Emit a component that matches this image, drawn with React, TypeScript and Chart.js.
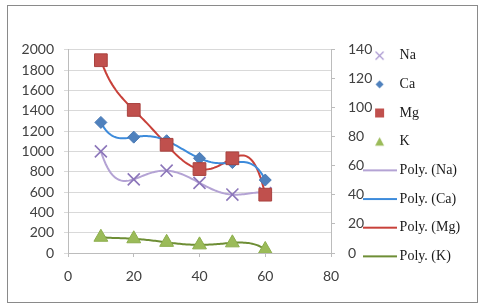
import React, { useEffect, useRef } from 'react';
import { Chart, registerables } from 'chart.js';

Chart.register(...registerables);

// ---- data ----
const xValues = [10, 20, 30, 40, 50, 60];
const naValues = [1000, 725, 810, 690, 575, 590];
const caValues = [1285, 1140, 1105, 932, 890, 718];
const mgValues = [1897, 1408, 1065, 826, 932, 574];
const kValues = [155, 140, 105, 80, 100, 35];

const seriesNames = ['Na', 'Ca', 'Mg', 'K'];
const trendNames = ['Poly. (Na)', 'Poly. (Ca)', 'Poly. (Mg)', 'Poly. (K)'];

const xAxis = { min: 0, max: 80, step: 20 };
const leftAxis = { min: 0, max: 2000, step: 200 };
const rightAxis = { min: 0, max: 140, step: 20 };

const markerColors = ['#8C76BA', '#4F81BD', '#C0504D', '#9BBB59'];
const markerBorders = ['#8C76BA', '#4A7AB5', '#A9423F', '#8CAE4C'];
const trendColors = ['#B4A3D4', '#3D8BDB', '#C8413A', '#6E8E35'];
const legendMarkerColors = ['#A996D0', '#4F81BD', '#C0504D', '#9BBB59'];

const POLY_ORDER = 5;

// least-squares polynomial regression (Excel "Poly." trendline)
function polyFit(xs: number[], ys: number[], order: number): number[] {
  const n = order + 1;
  const A: number[][] = Array.from({ length: n }, () => new Array(n + 1).fill(0));
  for (let k = 0; k < xs.length; k++) {
    const t = (xs[k] - 35) / 10;
    for (let i = 0; i < n; i++) {
      for (let j = 0; j < n; j++) A[i][j] += Math.pow(t, i + j);
      A[i][n] += ys[k] * Math.pow(t, i);
    }
  }
  for (let c = 0; c < n; c++) {
    let p = c;
    for (let r = c + 1; r < n; r++) if (Math.abs(A[r][c]) > Math.abs(A[p][c])) p = r;
    [A[c], A[p]] = [A[p], A[c]];
    for (let r = 0; r < n; r++) {
      if (r === c) continue;
      const f = A[r][c] / A[c][c];
      for (let j = c; j <= n; j++) A[r][j] -= f * A[c][j];
    }
  }
  return A.map((row, i) => row[n] / A[i][i]);
}

function trendPoints(xs: number[], ys: number[]) {
  const coef = polyFit(xs, ys, POLY_ORDER);
  const lo = xs[0];
  const hi = xs[xs.length - 1];
  const pts: { x: number; y: number }[] = [];
  const steps = 100;
  for (let s = 0; s <= steps; s++) {
    const x = lo + ((hi - lo) * s) / steps;
    const t = (x - 35) / 10;
    let y = 0;
    for (let i = coef.length - 1; i >= 0; i--) y = y * t + coef[i];
    pts.push({ x, y });
  }
  return pts;
}

function makeIcon(kind: string, color: string): HTMLCanvasElement {
  const c = document.createElement('canvas');
  const ctx = c.getContext('2d')!;
  if (kind === 'line') {
    c.width = 34;
    c.height = 4;
    ctx.fillStyle = color;
    ctx.fillRect(0, 1, 34, 2);
    return c;
  }
  c.width = 11;
  c.height = 11;
  ctx.fillStyle = color;
  ctx.strokeStyle = color;
  if (kind === 'x') {
    ctx.lineWidth = 1.2;
    ctx.beginPath();
    ctx.moveTo(1.5, 1.5);
    ctx.lineTo(9.5, 9.5);
    ctx.moveTo(9.5, 1.5);
    ctx.lineTo(1.5, 9.5);
    ctx.stroke();
  } else if (kind === 'diamond') {
    ctx.beginPath();
    ctx.moveTo(5.5, 1.5);
    ctx.lineTo(9.5, 5.5);
    ctx.lineTo(5.5, 9.5);
    ctx.lineTo(1.5, 5.5);
    ctx.closePath();
    ctx.fill();
  } else if (kind === 'square') {
    ctx.fillRect(1, 1, 9, 9);
  } else if (kind === 'triangle') {
    ctx.beginPath();
    ctx.moveTo(5.5, 1);
    ctx.lineTo(10, 9.5);
    ctx.lineTo(1, 9.5);
    ctx.closePath();
    ctx.fill();
  }
  return c;
}

export default function App() {
  const ref = useRef<HTMLCanvasElement | null>(null);

  useEffect(() => {
    if (!ref.current) return;
    const seriesValues = [naValues, caValues, mgValues, kValues];
    const styles = ['crossRot', 'rectRot', 'rect', 'triangle'];
    const radii = [8.5, 6, 9, 8];
    const iconKinds = ['x', 'diamond', 'square', 'triangle'];

    const markerSets = seriesValues.map((vals, i) => ({
      label: seriesNames[i],
      data: xValues.map((x, k) => ({ x, y: vals[k] })),
      showLine: false,
      pointStyle: styles[i] as any,
      pointRadius: radii[i],
      pointHoverRadius: radii[i],
      pointBackgroundColor: markerColors[i],
      pointBorderColor: markerBorders[i],
      pointBorderWidth: i === 0 ? 1.6 : 1,
      backgroundColor: markerColors[i],
      borderColor: markerBorders[i],
      order: 4 - i,
    }));

    const trendSets = seriesValues.map((vals, i) => ({
      label: trendNames[i],
      data: trendPoints(xValues, vals),
      showLine: true,
      pointRadius: 0,
      pointHoverRadius: 0,
      borderColor: trendColors[i],
      backgroundColor: trendColors[i],
      borderWidth: 2,
      tension: 0,
      order: 10 + i,
    }));

    const legendIcons = [
      ...iconKinds.map((k, i) => makeIcon(k, legendMarkerColors[i])),
      ...trendColors.map((c) => makeIcon('line', c)),
    ];
    const legendTexts = [...seriesNames, ...trendNames];

    const tickFont = { family: 'Lato, "Open Sans", sans-serif', size: 14 };
    const axisColor = '#bcbcbc';
    const gridColor = '#d9d9d9';
    const tickColor = '#404040';

    // width of widest right-axis label (used to left-align mirrored labels)
    const mctx = document.createElement('canvas').getContext('2d')!;
    mctx.font = `${tickFont.size}px ${tickFont.family}`;
    const widestRight = Math.max(
      ...[rightAxis.min, rightAxis.max].map((v) => mctx.measureText(String(v)).width)
    );

    const plain = (v: any) => String(v);

    const chart = new Chart(ref.current, {
      type: 'scatter',
      data: { datasets: [...markerSets, ...trendSets] as any },
      options: {
        animation: false,
        responsive: false,
        devicePixelRatio: 1,
        layout: { padding: { left: 8, top: 14, right: 14.07, bottom: 7 } },
        plugins: {
          tooltip: { enabled: false },
          title: {
            display: true,
            text: '',
            padding: 0,
            font: { size: 8, lineHeight: 1 },
          },
          legend: {
            display: true,
            position: 'right',
            maxWidth: 114,
            onClick: () => {},
            labels: {
              usePointStyle: true,
              pointStyleWidth: 26,
              padding: 14.67,
              font: { family: '"Liberation Serif", "Times New Roman", serif', size: 14 },
              color: '#1a1a1a',
              generateLabels: () =>
                legendTexts.map((t, i) => ({
                  text: t,
                  pointStyle: legendIcons[i] as any,
                  fillStyle: 'transparent',
                  strokeStyle: 'transparent',
                  lineWidth: 0,
                  hidden: false,
                  fontColor: '#1a1a1a',
                  datasetIndex: i,
                })),
            },
          },
        },
        scales: {
          x: {
            type: 'linear',
            position: 'bottom',
            min: xAxis.min,
            max: xAxis.max,
            afterFit: (s: any) => {
              s.height = 45;
            },
            ticks: { stepSize: xAxis.step, font: tickFont, color: tickColor, padding: 11, callback: plain },
            grid: { drawOnChartArea: false, drawTicks: true, tickLength: 4, color: axisColor },
            border: { color: axisColor, width: 1 },
          },
          y: {
            type: 'linear',
            position: 'left',
            min: leftAxis.min,
            max: leftAxis.max,
            afterFit: (s: any) => {
              s.width = 60;
            },
            ticks: { stepSize: leftAxis.step, font: tickFont, color: tickColor, padding: 10, callback: plain },
            grid: { color: gridColor, tickColor: gridColor, tickLength: 4, lineWidth: 1 },
            border: { color: axisColor, width: 1 },
          },
          y2: {
            type: 'linear',
            position: 'right',
            min: rightAxis.min,
            max: rightAxis.max,
            afterFit: (s: any) => {
              s.width = 20.93;
            },
            ticks: {
              stepSize: rightAxis.step,
              font: tickFont,
              color: tickColor,
              mirror: true,
              crossAlign: 'far',
              padding: 17 + widestRight,
              callback: plain,
            },
            grid: { drawOnChartArea: false, tickLength: 4, color: axisColor },
            border: { color: axisColor, width: 1 },
          },
        },
      },
    });
    return () => chart.destroy();
  }, []);

  return (
    <div style={{ position: 'fixed', left: 0, top: 0, width: 480, height: 305, background: '#fff' }}>
      <canvas ref={ref} width={480} height={305} style={{ display: 'block', width: 480, height: 305 }} />
      <div
        style={{
          position: 'absolute',
          left: 7,
          top: 5,
          width: 471,
          height: 298,
          boxSizing: 'border-box',
          border: '1.5px solid #8a8a8a',
          pointerEvents: 'none',
        }}
      />
    </div>
  );
}
